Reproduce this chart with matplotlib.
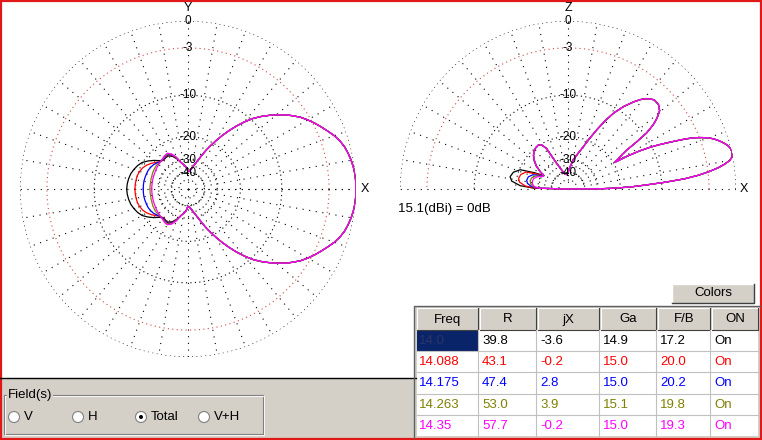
import numpy as np
import matplotlib
matplotlib.use("Agg")
import matplotlib.pyplot as plt
from matplotlib.patches import Rectangle, Circle

plt.rcParams['font.family'] = ['Liberation Sans', 'DejaVu Sans']

W, H = 762, 440

# -------------------- table data --------------------
freqs = ["14.0", "14.088", "14.175", "14.263", "14.35"]
r_vals = ["39.8", "43.1", "47.4", "53.0", "57.7"]
jx_vals = ["-3.6", "-0.2", "2.8", "3.9", "-0.2"]
ga_vals = ["14.9", "15.0", "15.0", "15.1", "15.0"]
fb_vals = ["17.2", "20.0", "20.2", "19.8", "19.3"]
on_vals = ["On", "On", "On", "On", "On"]
headers = ["Freq", "R", "jX", "Ga", "F/B", "ON"]
colors = ["#000000", "#ff0000", "#0000ff", "#808000", "#ff00ff"]

# -------------------- azimuth pattern (dB, symmetric about X) --------------------
az_front_deg = [0, 2.5, 5, 7.5, 10, 12.5, 15, 17.5, 20, 22.5, 25, 27.5, 30, 32.5, 35, 37.5,
                40, 42.5, 45, 47.5, 50, 52.5, 55, 57.5, 60, 62.5, 65, 67.5, 70, 75, 80, 85, 90]
az_front_db = [0, -0.01, -0.04, -0.12, -0.24, -0.4, -0.6, -0.9, -1.3, -1.8, -2.3, -2.8,
               -3.35, -3.95, -4.7, -5.5, -6.45, -7.45, -8.5, -9.7, -11.2, -12.9, -14.8,
               -16.8, -19, -21.2, -23.5, -26, -28.5, -32.5, -35.7, -38, -39]
az_back_deg = [95, 100, 105, 110, 115, 120, 125, 130, 135, 140, 145, 150, 155, 160, 165, 170, 175, 180]
az_back_14000 = [-35, -33, -31, -28.5, -26.5, -25.3, -25.3, -25.6, -24.6, -22.8, -21.2, -19.8,
                 -19.0, -18.4, -17.9, -17.6, -17.4, -17.3]
az_back_14088 = [-35, -33, -31, -28.2, -26, -24.9, -25.1, -25.5, -25.2, -24.0, -22.7, -21.6,
                 -20.8, -20.3, -20.0, -19.9, -19.8, -19.8]
az_back_14175 = [-35, -33, -31, -28, -25.8, -24.7, -24.9, -25.3, -25.1, -24.4, -23.7, -23.3,
                 -23.0, -22.9, -22.8, -22.7, -22.7, -22.7]
az_back_14263 = [-35, -33, -31, -27.8, -25.5, -24.4, -24.6, -25.0, -25.2, -25.0, -24.9, -25.0,
                 -25.1, -25.3, -25.4, -25.5, -25.5, -25.5]
az_back_14350 = [-35, -33, -31, -27.5, -25.2, -24.1, -24.3, -24.8, -25.1, -25.4, -25.6, -25.8,
                 -26.0, -26.1, -26.2, -26.3, -26.3, -26.3]

# -------------------- elevation pattern (dB) --------------------
el_main_deg = [0, 0.5, 1, 2, 3, 4, 5, 6, 7, 8, 9, 10, 11, 12, 13, 14, 15, 16, 17, 18, 19, 20,
               21, 22, 23, 24, 25, 26, 27, 28, 29, 29.7, 31, 32.5, 33.5, 34.5, 35.5, 37, 38.5,
               40.5, 43, 46, 49, 51, 53, 56, 59, 61.5, 64, 67, 70, 75, 80, 85, 90, 96, 102,
               108, 114, 118, 121, 124, 128, 132, 136, 140, 144, 148]
el_main_db = [-99, -28, -22, -16.5, -13, -9.3, -6.2, -4.3, -2.9, -1.8, -1.0, -0.4, -0.1, 0, 0,
              -0.05, -0.2, -0.45, -0.75, -1.1, -1.5, -2.0, -2.7, -3.5, -4.6, -6.0, -7.4, -8.8,
              -10.4, -12.5, -15.5, -19.5, -18, -16.5, -15, -12, -9.5, -7.8, -6.7, -5.7, -5.25,
              -5.2, -5.8, -6.5, -7.4, -9, -11, -13.3, -16, -19.3, -22.5, -26.5, -30, -35, -40,
              -42, -41, -37, -30.5, -22.2, -20.3, -19.8, -20, -20.5, -21.5, -23, -25, -28]
el_low_deg = [151, 154, 158, 163, 168, 172, 176, 178.5, 180]
el_low_14000 = [-31, -26, -20.3, -18.5, -17.9, -18.6, -21.5, -27, -99]
el_low_14088 = [-31, -27.5, -22.5, -21, -20.6, -21.2, -23.5, -28, -99]
el_low_14175 = [-31, -29, -25.5, -24, -23.7, -24.2, -26, -29.5, -99]
el_low_14263 = [-31, -30, -27, -25.5, -25.2, -25.6, -27, -30, -99]
el_low_14350 = [-31, -30.5, -28, -26.5, -26.2, -26.5, -27.5, -30.5, -99]

ring_db = [0, -3, -10, -20, -30, -40, -50]
ring_labels = ["0", "-3", "-10", "-20", "-30", "-40", ""]


def to_r(db):
    # ARRL style log scale: radius shrinks by 0.89 every 2 dB
    return 0.89 ** (-np.asarray(db, dtype=float) / 2)


fig = plt.figure(figsize=(W / 100, H / 100), dpi=100)
fig.patch.set_facecolor("white")

# -------------------- window chrome --------------------
bg = fig.add_axes([0, 0, 1, 1])
bg.set_xlim(0, W)
bg.set_ylim(H, 0)
bg.axis("off")

bg.add_patch(Rectangle((0, 379), W, 61, fc="#d4d0c8", ec="none"))
bg.plot([0, 416], [378.5, 378.5], color="black", lw=1)

# Field(s) group box
bg.plot([4, 263, 263, 4, 4], [395, 395, 434, 434, 395], color="#808080", lw=0.8)
bg.plot([5, 264, 264, 5, 5], [396, 396, 435, 435, 396], color="white", lw=0.6)
bg.text(8, 395, "Field(s)", fontsize=9.5, ha="left", va="center",
        bbox=dict(fc="#d4d0c8", ec="none", pad=0.5))
radio_x = [14, 78, 141, 204]
radio_txt = ["V", "H", "Total", "V+H"]
for x, t in zip(radio_x, radio_txt):
    bg.add_patch(Circle((x, 417), 5.5, fc="white", ec="#808080", lw=0.8))
    bg.text(x + 10, 417, t, fontsize=9.5, ha="left", va="center")
bg.add_patch(Circle((radio_x[2], 417), 2, fc="black", ec="none"))

# Colors button
bg.add_patch(Rectangle((672, 284), 82, 19, fc="#d4d0c8", ec="none"))
bg.plot([672, 672, 754], [303, 284, 284], color="white", lw=1)
bg.plot([672, 754, 754], [303, 303, 284], color="#404040", lw=1)
bg.text(713, 293.5, "Colors", fontsize=9.5, ha="center", va="center")

# Parameter table
col_edges = [415, 478, 536, 599, 656, 710, 758]
head_top, head_bot, row_h = 308, 330, 21.2
bg.add_patch(Rectangle((415, 306), 345, 132, fc="#d4d0c8", ec="none"))
bg.add_patch(Rectangle((417, head_bot), 341, 5 * row_h, fc="white", ec="none"))
for i, h in enumerate(headers):
    x0, x1 = col_edges[i] + 2, col_edges[i + 1]
    bg.add_patch(Rectangle((x0, head_top), x1 - x0, head_bot - head_top, fc="#d4d0c8", ec="none"))
    bg.plot([x0, x0, x1], [head_bot, head_top, head_top], color="white", lw=0.8)
    bg.plot([x0, x1, x1], [head_bot, head_bot, head_top], color="#404040", lw=0.8)
    bg.text((x0 + x1) / 2, (head_top + head_bot) / 2 + 0.5, h, fontsize=9.5, ha="center", va="center")
bg.add_patch(Rectangle((417, head_bot), col_edges[1] - 417, row_h, fc="#0a246a", ec="none"))
for j in range(1, 5):
    y = head_bot + j * row_h
    bg.plot([417, 758], [y, y], color="#c0c0c0", lw=0.8)
for x in col_edges[1:-1]:
    bg.plot([x, x], [head_bot, head_bot + 5 * row_h], color="#c0c0c0", lw=0.8)
bg.plot([414, 414, 760], [438, 306.5, 306.5], color="#606060", lw=1)
columns = [freqs, r_vals, jx_vals, ga_vals, fb_vals, on_vals]
for j in range(5):
    y = head_bot + (j + 0.5) * row_h + 0.5
    for i, col in enumerate(columns):
        c = colors[j]
        if i == 0 and j == 0:
            c = "#2c3466"
        bg.text(col_edges[i] + 4, y, col[j], fontsize=9.5, ha="left", va="center", color=c)

# red window border
bg.add_patch(Rectangle((1, 1), W - 2, H - 2, fc="none", ec="#e01818", lw=1.6))

bg.text(398, 209, "15.1(dBi) = 0dB", fontsize=9.5, ha="left", va="center")


# -------------------- polar plots --------------------
def make_polar(cx, cy, rad):
    ax = fig.add_axes([(cx - rad) / W, 1 - (cy + rad) / H, 2 * rad / W, 2 * rad / H],
                      projection="polar")
    ax.set_ylim(0, 1)
    ax.axis("off")
    return ax


def draw_grid(ax, span):
    th = np.radians(np.linspace(0, span, 721))
    for db in ring_db:
        c = "#d04848" if db == -3 else "black"
        ax.plot(th, np.full_like(th, to_r(db)), color=c, lw=0.8, ls=(0, (1, 3)))
    for a in range(0, span + 1, 10):
        r0 = 0 if a % 90 == 0 else to_r(-40)
        ax.plot([np.radians(a)] * 2, [r0, 1], color="black", lw=0.8, ls=(0, (1, 5)))
    for db, lab in zip(ring_db, ring_labels):
        ax.text(np.pi / 2, to_r(db), lab, fontsize=8.5, ha="center", va="center")


az = make_polar(188, 189, 168)
draw_grid(az, 360)
az.text(np.pi / 2, 1.078, "Y", fontsize=9, ha="center", va="center")
az.text(0, 1.055, "X", fontsize=9, ha="center", va="center")

az_backs = [az_back_14000, az_back_14088, az_back_14175, az_back_14263, az_back_14350]
for back, c in zip(az_backs, colors):
    deg = np.array(az_front_deg + az_back_deg)
    r = to_r(az_front_db + back)
    az.plot(np.radians(deg), r, color=c, lw=0.9)
    az.plot(-np.radians(deg), r, color=c, lw=0.9)

el = make_polar(568, 189, 168)
draw_grid(el, 180)
el.text(np.pi / 2, 1.078, "Z", fontsize=9, ha="center", va="center")
el.text(0, 1.045, "X", fontsize=9, ha="center", va="center")

el_lows = [el_low_14000, el_low_14088, el_low_14175, el_low_14263, el_low_14350]
for low, c in zip(el_lows, colors):
    deg = np.array(el_main_deg + el_low_deg)
    el.plot(np.radians(deg), to_r(el_main_db + low), color=c, lw=0.9)

fig.savefig("out.png", dpi=100, facecolor="white")
